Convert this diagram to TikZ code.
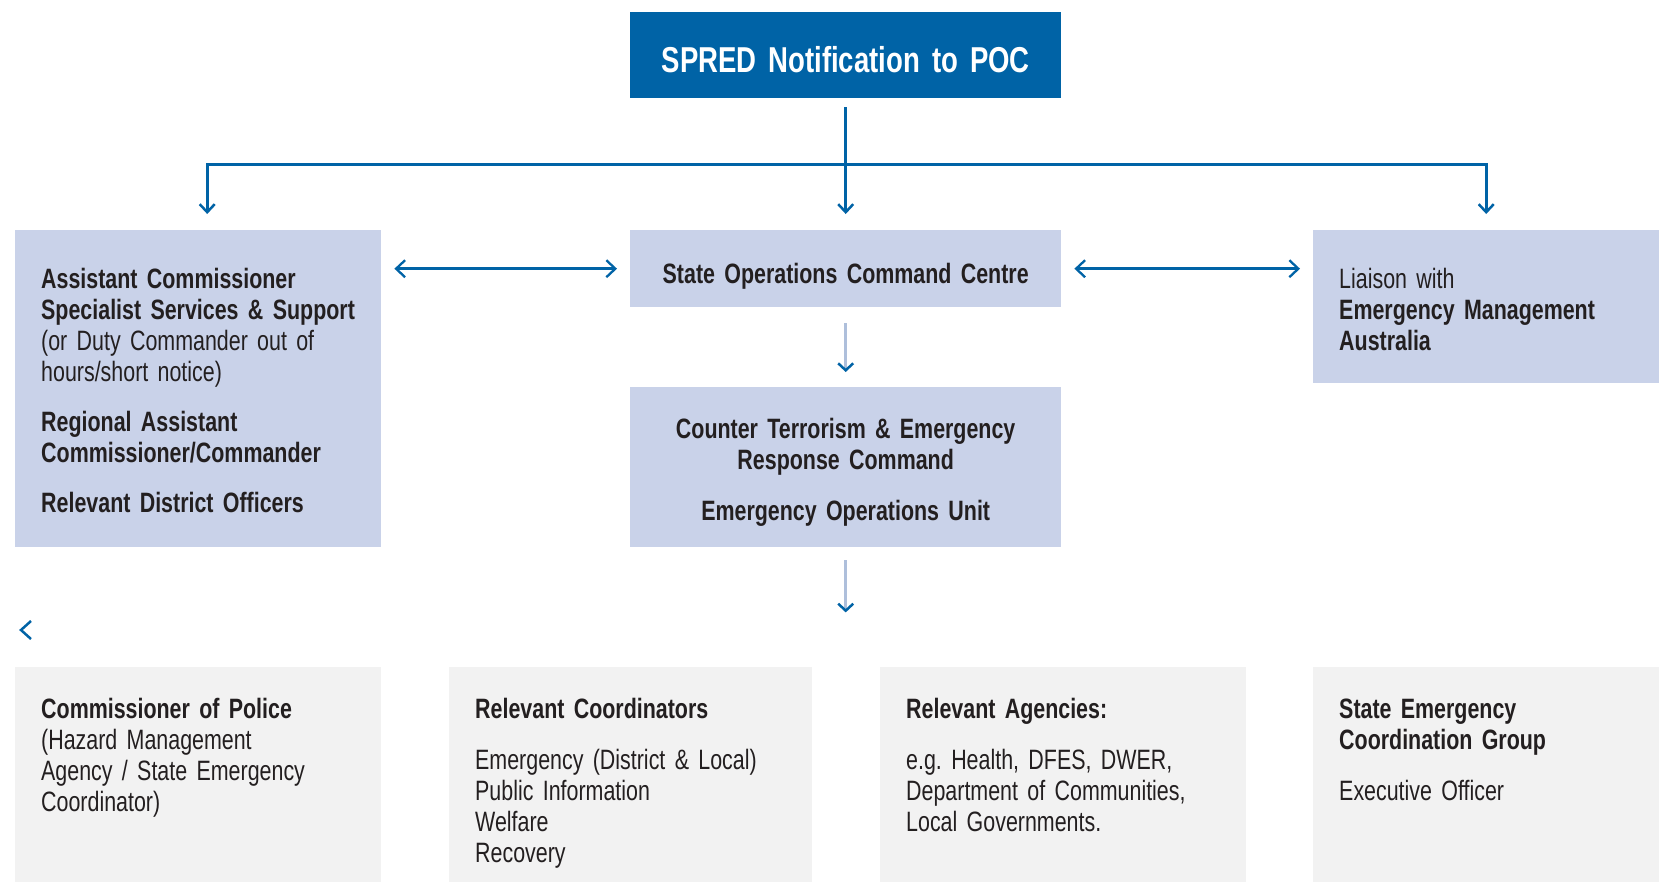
\documentclass[tikz,border=0pt]{standalone}
\usepackage{fontspec}
\setmainfont[FakeStretch=0.765]{Liberation Sans}
\usetikzlibrary{arrows.meta}

\definecolor{spredblue}{HTML}{0063A6}
\definecolor{boxblue}{HTML}{C9D2E9}
\definecolor{boxgrey}{HTML}{F2F2F2}
\definecolor{paleline}{HTML}{AEBFDB}
\definecolor{inkdark}{HTML}{231F20}

\frenchspacing
\hyphenpenalty=10000
\newcommand{\chartfont}{\fontsize{28}{31}\selectfont\spaceskip=6.5pt plus 2pt minus 1pt}
\newcommand{\headfont}{\fontsize{36}{38}\selectfont\bfseries\spaceskip=10pt plus 2pt minus 1pt}

\begin{document}
\begin{tikzpicture}[
  x=1pt, y=-1pt,
  every node/.style={font=\chartfont, text=inkdark},
  %% boxes hang from their top-left corner; text height = top pad to first baseline
  panel/.style={anchor=north west, inner xsep=26pt, inner ysep=0pt},
  titlebox/.style={panel, fill=spredblue, text=white, font=\headfont, align=center},
  bluebox/.style={panel, fill=boxblue},
  greybox/.style={panel, fill=boxgrey, align=left, text height=51pt, text depth=250pt},
  flow/.style={draw=spredblue, line width=3pt, -{Straight Barb[length=8pt, width=15pt, line width=2.5pt]}},
  linkboth/.style={draw=spredblue, line width=2.8pt,
    {Straight Barb[length=9pt, width=17pt, line width=2.3pt]}-{Straight Barb[length=9pt, width=17pt, line width=2.3pt]},
    shorten <=13pt, shorten >=13pt},
  paleflow/.style={draw=paleline, line width=3pt,
    -{Straight Barb[length=7pt, width=15pt, line width=2.5pt, color=spredblue]}},
]

%% ── canvas ──────────────────────────────────────────────────────────────────
\useasboundingbox (0,0) rectangle (1659,881);
\clip (0,0) rectangle (1659,881);
\fill[white] (0,0) rectangle (1659,881);

%% ── top: notification ───────────────────────────────────────────────────────
\node[titlebox, text width=379pt, text height=60pt, text depth=26pt] (spred) at (630,12)
  {SPRED Notification to POC};

%% ── second row ──────────────────────────────────────────────────────────────
\node[bluebox, text width=314pt, align=left, text height=58pt, text depth=259pt] (acss) at (15,230)
  {\textbf{Assistant Commissioner}\\
   \textbf{Specialist Services \& Support}\\
   (or Duty Commander out of\\
   hours/short notice)\\[19pt]
   \textbf{Regional Assistant}\\
   \textbf{Commissioner/Commander}\\[19pt]
   \textbf{Relevant District Officers}};

\node[bluebox, text width=379pt, align=center, text height=53pt, text depth=24pt,
      font=\chartfont\bfseries] (socc) at (630,230)
  {State Operations Command Centre};

\node[bluebox, text width=294pt, align=left, text height=58pt, text depth=95pt] (ema) at (1313,230)
  {Liaison with\\
   \textbf{Emergency Management}\\
   \textbf{Australia}};

\node[bluebox, text width=379pt, align=center, text height=51pt, text depth=109pt,
      font=\chartfont\bfseries] (cterc) at (630,387)
  {Counter Terrorism \& Emergency\\
   Response Command\\[20pt]
   Emergency Operations Unit};

%% ── bottom row (runs off the page) ──────────────────────────────────────────
\node[greybox, text width=314pt] (cop) at (15,667)
  {\textbf{Commissioner of Police}\\
   (Hazard Management\\
   Agency / State Emergency\\
   Coordinator)};

\node[greybox, text width=311pt] (coord) at (449,667)
  {\textbf{Relevant Coordinators}\\[20pt]
   Emergency (District \& Local)\\
   Public Information\\
   Welfare\\
   Recovery};

\node[greybox, text width=314pt] (agencies) at (880,667)
  {\textbf{Relevant Agencies:}\\[20pt]
   e.g. Health, DFES, DWER,\\
   Department of Communities,\\
   Local Governments.};

\node[greybox, text width=294pt] (secg) at (1313,667)
  {\textbf{State Emergency}\\
   \textbf{Coordination Group}\\[20pt]
   Executive Officer};

%% ── connectors ──────────────────────────────────────────────────────────────
\coordinate (hub) at (spred.south |- 0,164);
\draw[flow, shorten <=9pt, shorten >=16pt] (spred.south) -- (socc.north);
\draw[flow, shorten >=16pt] (hub) -| ([xshift=9pt]acss.north);
\draw[flow, shorten >=16pt] (hub) -| (ema.north);

\draw[linkboth] (socc.west -| acss.east) -- (socc.west);
\draw[linkboth] (socc.east) -- (socc.east -| ema.west);

\draw[paleflow, shorten <=16pt, shorten >=15pt] (socc.south) -- (cterc.north);
\coordinate (tier) at ([yshift=-65pt]cterc.south);
\draw[paleflow, shorten <=13pt] (cterc.south) -- (tier);

%% stray tip at the far left
\draw[spredblue, line width=2.5pt] (31,621) -- (21,630) -- (31,639);

\end{tikzpicture}
\end{document}
